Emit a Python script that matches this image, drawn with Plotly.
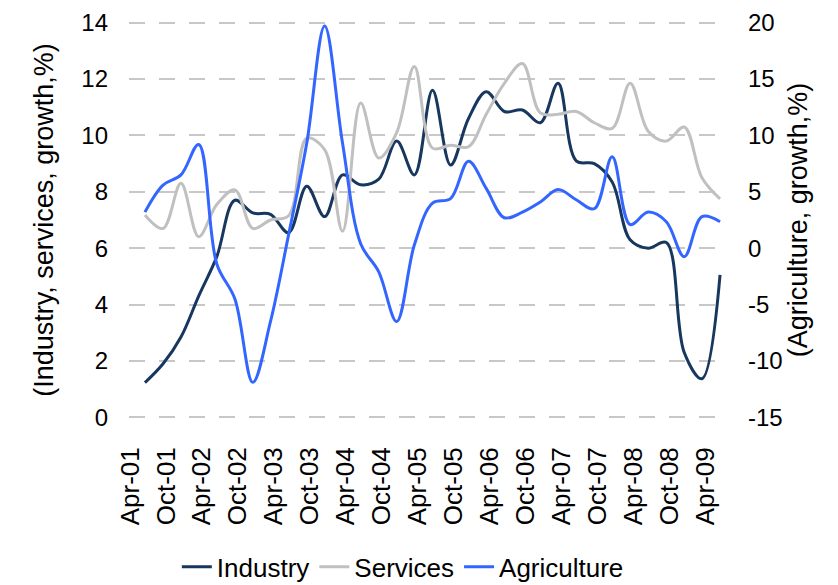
import plotly.graph_objects as go

# Quarterly observations, Apr-01 quarter .. Apr-09 quarter (plotted late in each quarter)
quarters = [f"{2001 + (5 + 3 * i) // 12}-{(5 + 3 * i) % 12 + 1:02d}-15" for i in range(33)]

industry = [1.23, 1.9, 2.85, 4.3, 5.7, 7.7, 7.25, 7.2, 6.55, 8.2, 7.12,
            8.6, 8.25, 8.45, 9.8, 8.6, 11.6, 8.95, 10.6, 11.55, 10.85,
            10.9, 10.45, 11.85, 9.1, 9.0, 8.35, 6.3, 6.0, 6.2, 2.3, 1.37, 5.05]

services = [7.18, 6.7, 8.3, 6.41, 7.55, 8.07, 6.7, 7.0, 7.15, 9.9, 9.5,
            6.6, 11.15, 9.2, 10.1, 12.45, 9.55, 9.65, 9.6, 10.75, 11.85,
            12.55, 10.8, 10.75, 10.85, 10.45, 10.25, 11.85, 10.15, 9.8, 10.3, 8.5, 7.75]

agriculture = [3.2, 5.6, 6.5, 9.2, -1.4, -4.5, -11.9, -6.5, 1.2, 9.3, 19.7,
               9.3, 0.4, -2.1, -6.5, 0.3, 4.0, 4.4, 7.7, 5.3, 2.7,
               3.2, 4.1, 5.2, 4.3, 3.5, 8.1, 2.1, 3.2, 2.35, -0.75, 2.8, 2.35]

left_ticks = [0, 2, 4, 6, 8, 10, 12, 14]
left_tick_labels = ["0", "2", "4", "6", "8", "10", "12", "14"]
right_ticks = [-15, -10, -5, 0, 5, 10, 15, 20]
right_tick_labels = ["-15", "-10", "-5", "0", "5", "10", "15", "20"]

FONT = "Liberation Sans, Arial, sans-serif"

fig = go.Figure()
fig.add_trace(go.Scatter(x=quarters, y=industry, name="Industry", mode="lines",
                         line=dict(color="#17375E", width=3, shape="spline", smoothing=1.0)))
fig.add_trace(go.Scatter(x=quarters, y=services, name="Services", mode="lines",
                         line=dict(color="#C0C0C0", width=3, shape="spline", smoothing=1.0)))
fig.add_trace(go.Scatter(x=quarters, y=agriculture, name="Agriculture", mode="lines", yaxis="y2",
                         line=dict(color="#3366FF", width=3, shape="spline", smoothing=1.0)))

fig.update_layout(
    width=838, height=585,
    margin=dict(l=129, r=115, t=21, b=166, autoexpand=False),
    paper_bgcolor="white", plot_bgcolor="white",
    font=dict(family=FONT, color="#000000"),
    showlegend=True,
    legend=dict(orientation="h", x=0.461, xanchor="center", xref="paper",
                y=0.031, yref="container", yanchor="middle",
                font=dict(family=FONT, size=26, color="#000000"),
                itemwidth=30, traceorder="normal"),
    xaxis=dict(
        type="date", range=["2001-03-26", "2009-06-30"],
        tick0="2001-04-01", dtick="M6", tickformat="%b-%y", tickangle=-90,
        showgrid=False, zeroline=False, showline=False, ticks="",
        ticklabelstandoff=22, automargin=False,
        tickfont=dict(family=FONT, size=26, color="#000000"),
    ),
    yaxis=dict(
        range=[-0.06, 14.06], tickvals=left_ticks, ticktext=left_tick_labels, showgrid=True,
        gridcolor="#C8C8C8", gridwidth=2, griddash="16px,14px",
        zeroline=False, showline=False, ticks="", ticklabelstandoff=20, automargin=False,
        tickfont=dict(family=FONT, size=24, color="#000000"),
        title=dict(text="(Industry, services, growth,%)", standoff=19,
                   font=dict(family=FONT, size=27, color="#000000")),
    ),
    yaxis2=dict(
        range=[-15.15, 20.15], tickvals=right_ticks, ticktext=right_tick_labels,
        overlaying="y", side="right",
        showgrid=False, zeroline=False, showline=False, ticks="", ticklabelstandoff=24,
        automargin=False,
        tickfont=dict(family=FONT, size=24, color="#000000"),
        title=dict(text="(Agriculture, growth,%)", standoff=4,
                   font=dict(family=FONT, size=27, color="#000000")),
    ),
)

fig.write_html("out.html", config={"displayModeBar": False},
               post_script="document.body.style.margin='0';")
